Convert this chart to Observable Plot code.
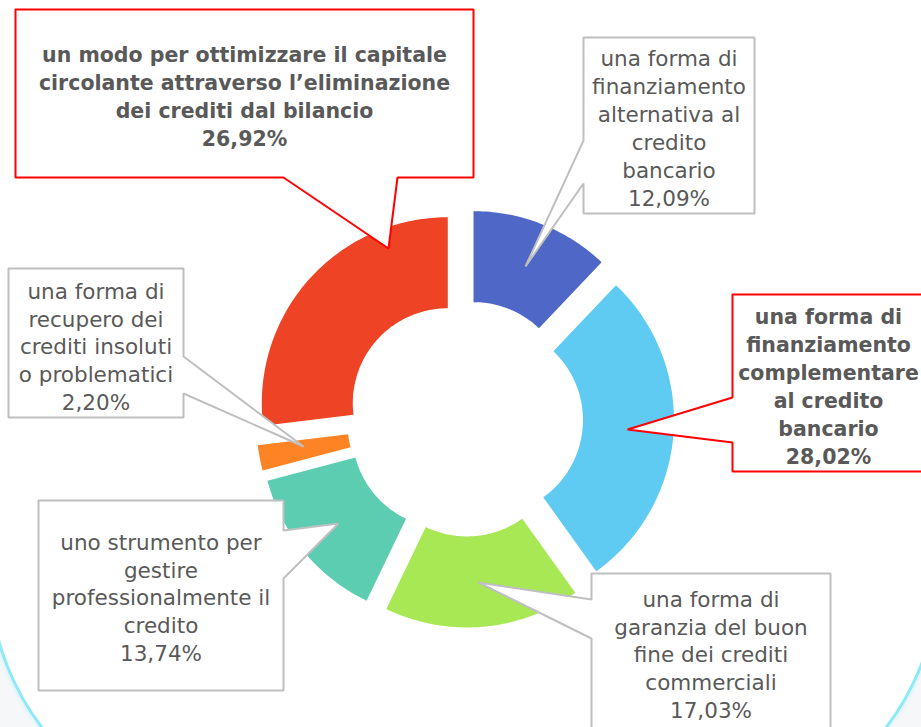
<!DOCTYPE html>
<html>
<head>
<meta charset="utf-8">
<script src="https://cdn.jsdelivr.net/npm/d3@7"></script>
<script src="https://cdn.jsdelivr.net/npm/@observablehq/plot@0.6"></script>
<style>
  html, body { margin: 0; padding: 0; background: #f6f7f9; }
  #wrap { position: relative; width: 921px; height: 727px; overflow: hidden; background: #f6f7f9; }
  #frame { position: absolute; left: -12px; right: -19px; top: -30px; bottom: -101px;
           background: #ffffff; border: 3px solid #8fe9f8;
           border-bottom-left-radius: 255px; border-bottom-right-radius: 255px;
           box-shadow: 0 0 5px #c4f4fc; }
  #chart { position: absolute; left: 0; top: 0; }
</style>
</head>
<body>
<div id="wrap"><div id="frame"></div><div id="chart"></div></div>
<script>
// ---- data (clockwise from 12 o'clock) ----
const categories = [
  "una forma di\nfinanziamento\nalternativa al\ncredito\nbancario",
  "una forma di\nfinanziamento\ncomplementare\nal credito\nbancario",
  "una forma di\ngaranzia del buon\nfine dei crediti\ncommerciali",
  "uno strumento per\ngestire\nprofessionalmente il\ncredito",
  "una forma di\nrecupero dei\ncrediti insoluti\no problematici",
  "un modo per ottimizzare il capitale\ncircolante attraverso l\u2019eliminazione\ndei crediti dal bilancio"
];
const values = [12.09, 28.02, 17.03, 13.74, 2.20, 26.92];
const colors = ["#4f67c7", "#5fcbf2", "#a8e855", "#5dcdb1", "#fe8324", "#ef4326"];
const highlighted = [false, true, false, false, false, true];

// ---- layout ----
const W = 921, H = 727;
const cx = 464.5, cy = 418, R = 186, R0 = 95, explode = 23;
const callouts = [
  {x0: 583, y0: 37,  x1: 754, y1: 213, side: "left",   b0: 140, b1: 183, tip: [525, 266], ty: 126.5},
  {x0: 732, y0: 294, x1: 926, y1: 471, side: "left",   b0: 397, b1: 442, tip: [627, 429], ty: 384.5},
  {x0: 591, y0: 573, x1: 830, y1: 745, side: "left",   b0: 599, b1: 638, tip: [478, 582], ty: 653},
  {x0: 38,  y0: 500, x1: 283, y1: 690, side: "right",  b0: 530, b1: 578, tip: [338, 523], ty: 596},
  {x0: 8,   y0: 268, x1: 183, y1: 417, side: "right",  b0: 356, b1: 393, tip: [303, 446], ty: 345},
  {x0: 15,  y0: 9,   x1: 473, y1: 177, side: "bottom", b0: 283, b1: 397, tip: [388, 248], ty: 94.5}
];

// ---- slice polygons from values ----
const total = d3.sum(values);
const slicePts = [];
let acc = 0;
values.forEach((v, i) => {
  const a0 = acc / total * 2 * Math.PI;
  const a1 = (acc + v) / total * 2 * Math.PI;
  acc += v;
  const mid = (a0 + a1) / 2;
  const ox = explode * Math.sin(mid), oy = -explode * Math.cos(mid);
  const n = Math.max(2, Math.ceil((a1 - a0) / (Math.PI / 180)));
  for (let k = 0; k <= n; k++) {
    const t = a0 + (a1 - a0) * k / n;
    slicePts.push({key: i, color: colors[i], x: cx + ox + R * Math.sin(t), y: cy + oy - R * Math.cos(t)});
  }
  for (let k = n; k >= 0; k--) {
    const t = a0 + (a1 - a0) * k / n;
    slicePts.push({key: i, color: colors[i], x: cx + ox + R0 * Math.sin(t), y: cy + oy - R0 * Math.cos(t)});
  }
});

// ---- callout outlines ----
const calloutPts = [];
callouts.forEach((c, i) => {
  let p;
  if (c.side === "left") {
    p = [[c.x0, c.y0], [c.x1, c.y0], [c.x1, c.y1], [c.x0, c.y1], [c.x0, c.b1], c.tip, [c.x0, c.b0], [c.x0, c.y0]];
  } else if (c.side === "right") {
    p = [[c.x0, c.y0], [c.x1, c.y0], [c.x1, c.b0], c.tip, [c.x1, c.b1], [c.x1, c.y1], [c.x0, c.y1], [c.x0, c.y0]];
  } else {
    p = [[c.x0, c.y0], [c.x1, c.y0], [c.x1, c.y1], [c.b1, c.y1], c.tip, [c.b0, c.y1], [c.x0, c.y1], [c.x0, c.y0]];
  }
  p.forEach(([x, y]) => calloutPts.push({key: i, x, y, stroke: highlighted[i] ? "#ff0000" : "#bfbfbf"}));
});

const labels = categories.map((c, i) => ({
  text: c + "\n" + values[i].toFixed(2).replace(".", ",") + "%",
  x: (callouts[i].x0 + Math.min(callouts[i].x1, i === 1 ? 924 : callouts[i].x1)) / 2,
  y: callouts[i].ty,
  bold: highlighted[i]
}));

const font = "DejaVu Sans, Verdana, sans-serif";
const chart = Plot.plot({
  width: W, height: H, margin: 0,
  x: {domain: [0, W], range: [0, W], axis: null},
  y: {domain: [0, H], range: [0, H], axis: null},
  color: {type: "identity"},
  style: {background: "transparent", overflow: "visible"},
  marks: [
    Plot.line(slicePts, {x: "x", y: "y", z: "key", fill: "color", stroke: "none", curve: "linear"}),
    Plot.line(calloutPts, {x: "x", y: "y", z: "key", fill: "#ffffff", stroke: "stroke", strokeWidth: 2, strokeLinejoin: "miter", curve: "linear"}),
    Plot.text(labels.filter(d => !d.bold), {x: "x", y: "y", text: "text", fill: "#595959", fontSize: 21.5, lineHeight: 1.3, fontFamily: font, textAnchor: "middle", lineAnchor: "middle"}),
    Plot.text(labels.filter(d => d.bold), {x: "x", y: "y", text: "text", fill: "#595959", fontSize: 20.5, lineHeight: 1.37, fontWeight: "bold", fontFamily: font, textAnchor: "middle", lineAnchor: "middle"})
  ]
});
document.getElementById("chart").appendChild(chart);
</script>
</body>
</html>
